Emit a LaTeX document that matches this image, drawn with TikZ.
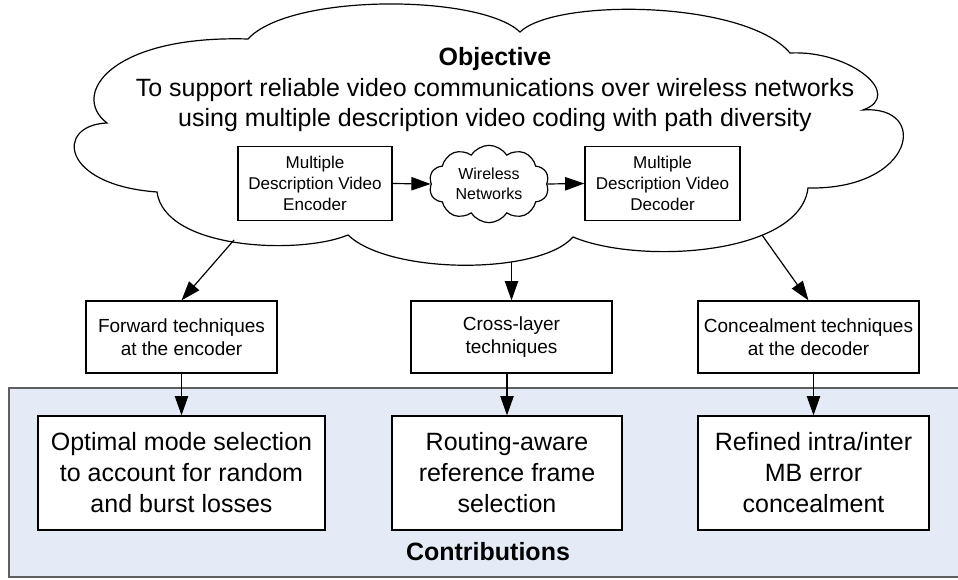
\documentclass[tikz,border=0pt]{standalone}
\usepackage{fontspec}
\setmainfont{Liberation Sans}
\usetikzlibrary{arrows.meta,shapes.symbols}
\definecolor{panelblue}{RGB}{229,235,246}
\definecolor{paneledge}{RGB}{95,95,95}
\newcommand\bigtxt{\fontsize{18.75pt}{23.2pt}\selectfont}
\newcommand\midtxt{\fontsize{14.25pt}{17.25pt}\selectfont}
\newcommand\smltxt{\fontsize{12.8pt}{15.5pt}\selectfont}
\newcommand\cldtxt{\fontsize{12pt}{15pt}\selectfont}
\begin{document}
\begin{tikzpicture}[x=0.75pt,y=-0.75pt,line width=0.9pt,
  box/.style={draw=black,fill=white,align=center,inner sep=0pt},
  codec/.style={box,font=\smltxt,minimum width=115.5pt,minimum height=55.5pt},
  technique/.style={box,font=\midtxt,minimum height=54pt},
  contrib/.style={box,font=\bigtxt,minimum height=85.5pt},
  arr/.style={-{Triangle[length=14.5pt,width=10pt]},line width=0.9pt}]
\useasboundingbox (0,0) rectangle (958,580);

% contributions panel
\fill[panelblue] (9,388) rectangle (975,577);
\draw[paneledge,line width=0.8pt] (975,388) -- (9,388) -- (9,577) -- (975,577);

% objective cloud
\draw[fill=white] (248,39) .. controls (290,-7) and (480,-6) .. (520,32)
  .. controls (555,-2) and (745,0) .. (790,53)
  .. controls (850,50) and (905,95) .. (863,110)
  .. controls (930,105) and (915,190) .. (808,188)
  .. controls (800,255) and (640,265) .. (573,237)
  .. controls (540,275) and (390,275) .. (348,235)
  .. controls (300,255) and (165,250) .. (157,192)
  .. controls (60,185) and (55,125) .. (107,123)
  .. controls (70,95) and (110,35) .. (248,39) -- cycle;
\coordinate (cl1) at (234,240);
\coordinate (cl2) at (511.5,262);
\coordinate (cl3) at (762,235);

\node[font=\bigtxt\bfseries,anchor=base] (objtitle) at (495,66) {Objective};
\node[font=\bigtxt,anchor=base] (objline1) at (495,97) {To support reliable video communications over wireless networks};
\node[font=\bigtxt,anchor=base] (objline2) at (495,127) {using multiple description video coding with path diversity};

% transmission chain
\node[codec] (enc) at (315,183.5) {Multiple\\Description Video\\Encoder};
\node[codec,minimum width=116.25pt] (dec) at (662.5,183.5) {Multiple\\Description Video\\Decoder};
\node[cloud,draw,fill=white,cloud puffs=10,cloud puff arc=115,cloud ignores aspect,
  minimum width=90pt,minimum height=58pt,inner sep=0pt,align=center,
  font=\cldtxt] (net) at (489,184) {Wireless\\Networks};
\draw[arr] (enc.east) -- (net.west);
\draw[arr] (net.east) -- (dec.west);

% technique boxes
\node[technique,minimum width=143.25pt] (fwd) at (181.5,337) {Forward techniques\\at the encoder};
\node[technique,minimum width=150.75pt] (cross) at (511.5,337) {Cross-layer\\techniques};
\node[technique,minimum width=165.75pt] (conc) at (808.5,337) {Concealment techniques\\at the decoder};

% contribution boxes
\node[contrib,minimum width=215.25pt] (opt) at (181.5,473) {Optimal mode selection\\to account for random\\and burst losses};
\node[contrib,minimum width=172.5pt] (route) at (507,473) {Routing-aware\\reference frame\\selection};
\node[contrib,minimum width=173.25pt] (refine) at (813.5,473) {Refined intra/inter\\MB error\\concealment};
\node[font=\bigtxt\bfseries,anchor=base] (contribtitle) at (488,561) {Contributions};

% connectors
\draw[arr] (cl1) -- (fwd.north);
\draw[arr] (cl2) -- (cross.north);
\draw[arr] (cl3) -- (conc.north);
\draw[arr] (fwd.south) -- (opt.north);
\draw[arr] (cross.south -| route.north) -- (route.north);
\draw[arr] (conc.south -| refine.north) -- (refine.north);
\end{tikzpicture}
\end{document}
